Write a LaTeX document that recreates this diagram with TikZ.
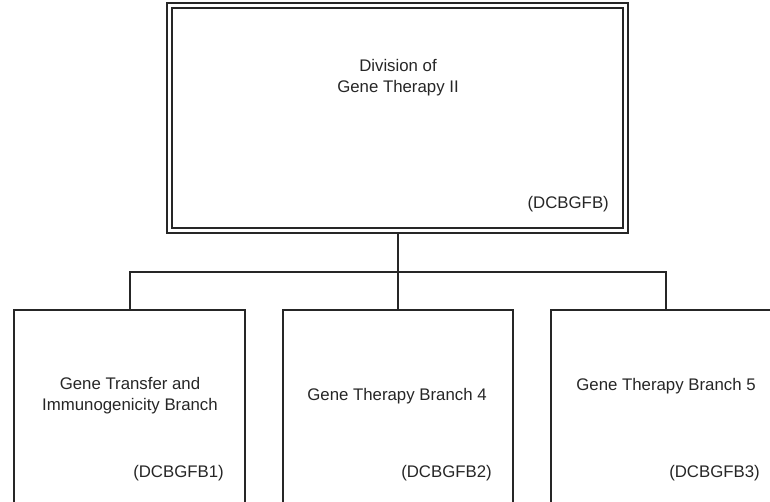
\documentclass[tikz,border=0pt]{standalone}
\usepackage{fontspec}
\setmainfont{Liberation Sans}
\begin{document}
\begin{tikzpicture}[x=1pt,y=-1pt,
  line/.style={draw=black!85,line width=2pt},
  lbl/.style={font=\fontsize{16.8}{21}\selectfont,text=black!85,align=center,inner sep=0pt},
  code/.style={font=\fontsize{16.8}{21}\selectfont,text=black!85,anchor=east,inner sep=0pt}]
\useasboundingbox (0,0) rectangle (770,501);
\begin{scope}
\clip (0,0) rectangle (770,501);
% top box double border
\draw[black!85,line width=1.6pt] (167,3) rectangle (628,233);
\draw[black!85,line width=1.6pt] (172,8) rectangle (623,228);
\coordinate (topc) at (398,233);
\node[lbl] (t1) at (398,78) {Division of\\Gene Therapy II};
\node[code] (t2) at (609,204) {(DCBGFB)};
% bottom boxes (extend past picture edge)
\draw[line] (14,520) -- (14,310) -- (245,310) -- (245,520);
\draw[line] (283,520) -- (283,310) -- (513,310) -- (513,520);
\draw[line] (551,520) -- (551,310) -- (790,310);
\coordinate (b1) at (130,310);
\coordinate (b2) at (398,310);
\coordinate (b3) at (666,310);
\coordinate (bus) at (398,272);
\node[lbl] (n1) at (130,396) {Gene Transfer and\\Immunogenicity Branch};
\node[code] (c1) at (224,473) {(DCBGFB1)};
\node[lbl] (n2) at (397,396) {Gene Therapy Branch 4};
\node[code] (c2) at (492,473) {(DCBGFB2)};
\node[lbl] (n3) at (666,386) {Gene Therapy Branch 5};
\node[code] (c3) at (760,473) {(DCBGFB3)};
% connectors
\draw[line] (topc) -- (b2);
\draw[line] (b1) -- (b1 |- bus) -- (b3 |- bus) -- (b3);
\end{scope}
\end{tikzpicture}
\end{document}
